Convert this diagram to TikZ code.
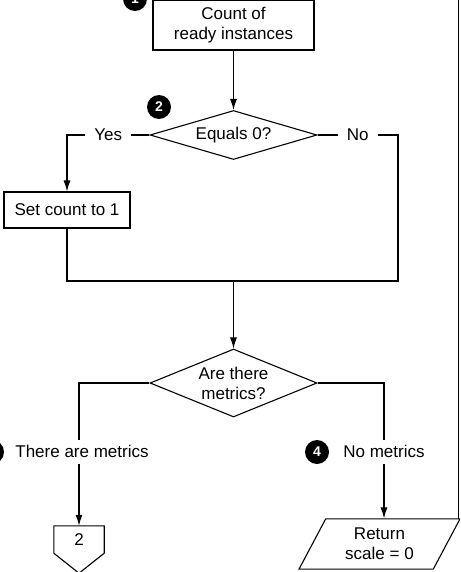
\documentclass[tikz,border=0pt]{standalone}
\usepackage{fontspec}
\setmainfont{Liberation Sans}
\usetikzlibrary{shapes.geometric,arrows.meta,positioning,calc}
\tikzstyle{process} = [draw, shape=rectangle, line width=1.1pt, align=center]
\tikzstyle{decision} = [draw, shape=diamond, line width=1.1pt, align=center, inner sep=0pt, minimum width=167pt]
\tikzstyle{badge} = [shape=circle, fill=black, text=white, font=\fontsize{14}{14}\selectfont\bfseries, minimum size=24pt, inner sep=0pt]
\tikzstyle{gap} = [fill=white, inner sep=3pt]
\tikzstyle{Line} = [line width=1.1pt]
\tikzstyle{Arrow} = [-{Latex[length=11pt,width=7pt]}, line width=1.1pt]

\begin{document}
\begin{tikzpicture}[x=1pt, y=-1pt, font=\fontsize{17}{20}\selectfont]
            \useasboundingbox (0,0) rectangle (460,572);
            \clip (0,0) rectangle (460,572);
            %%%%% First test %%%%%
            \draw (233.5,25) node[process, minimum width=161pt, minimum height=50pt] (A) {Count of\\ready instances};
            \node (B) [decision, aspect=3.4, minimum height=49pt] at (233.5,135) {Equals 0?};
            \draw [Arrow] (A) -- (B);
            \node (C) [process, minimum width=126pt, minimum height=36pt] at (67,210) {Set count to 1};
            \draw [Arrow] (B.west) -- node[gap, inner xsep=9pt] {Yes} (67,135) -- (C);
            \coordinate (J) at (233.5,281);
            \draw [Line] (B.east) -- node[gap, inner xsep=9pt] {No} (398,135) |- (J);
            \draw [Line] (C) |- (J);
            %%%%% Second test %%%%%
            \node (D) [decision, aspect=2.46, minimum height=68pt] at (233.5,383) {Are there\\metrics?};
            \draw [Arrow] (J) -- (D);
            \node (E) [minimum width=50pt, minimum height=27pt, inner sep=0pt] at (79,539.5) {2};
            \draw [Line] (E.north west) -- (E.north east) -- (E.south east) -- ($(E.south)+(0,20)$) -- (E.south west) -- cycle;
            \node (F) [trapezium, trapezium left angle=62, trapezium right angle=118, draw, line width=1.1pt, minimum width=161pt, minimum height=50pt, align=center, inner sep=0pt] at (379.5,544) {Return\\scale = 0};
            \draw [Arrow] (D.west) -| node[gap, pos=.741, xshift=3pt, inner ysep=6pt] {There are metrics} (E.north);
            \draw [Arrow] (D.east) -| node[gap, pos=.754, inner ysep=6pt] {No metrics} (F.top side -| 384,0);
            %%%%% Badges %%%%%
            \node[badge] at (135,-1) {1};
            \node[badge] at (159,107) {2};
            \node[badge] at (-8,452) {3};
            \node[badge] at (317,452) {4};
            \draw [line width=.8pt] (458.5,0) -- (458.5,519);
\end{tikzpicture}
\end{document}
